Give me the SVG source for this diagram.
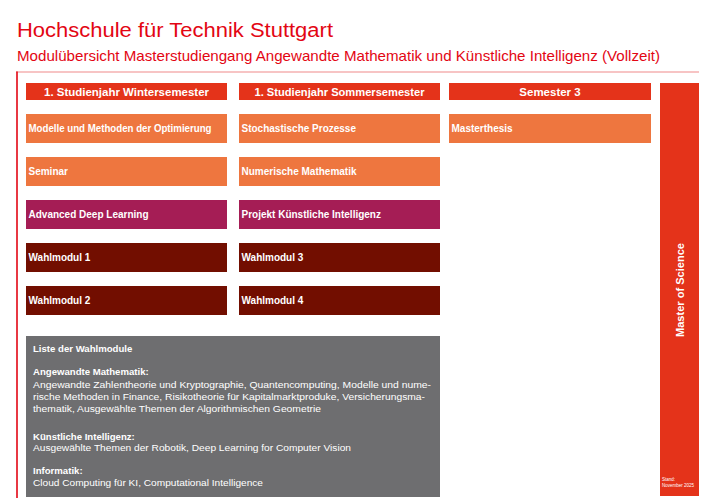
<svg xmlns="http://www.w3.org/2000/svg" width="709" height="502" viewBox="0 0 709 502">
<style>
text{font-family:"Liberation Sans",Arial,sans-serif}
.hd{fill:#E4331A}
.or{fill:#EE763F}
.mg{fill:#A51D55}
.dr{fill:#720E00}
.gy{fill:#6E6E70}
.ht{fill:#fff;font-weight:bold;font-size:11.5px;text-anchor:middle}
.mt{fill:#fff;font-weight:bold;font-size:10px}
.gt{fill:#fff;font-size:9.6px}
.gb{fill:#fff;font-size:9.6px;font-weight:bold}
</style>
<rect width="709" height="502" fill="#fff"/>
<g id="title">
<text x="17" y="37" font-size="20" fill="#E30613" textLength="316" lengthAdjust="spacingAndGlyphs">Hochschule für Technik Stuttgart</text>
<text x="17" y="61" font-size="14.5" fill="#E30613" textLength="643" lengthAdjust="spacingAndGlyphs">Modulübersicht Masterstudiengang Angewandte Mathematik und Künstliche Intelligenz (Vollzeit)</text>
</g>
<g id="frame">
<line x1="16" y1="72" x2="699" y2="72" stroke="#F08A8A" stroke-width="1.2"/>
<line x1="17" y1="71.5" x2="17" y2="498" stroke="#E30613" stroke-width="1.6"/>
</g>
<g id="header-ws"><rect class="hd" x="26" y="83" width="201" height="17"/><text class="ht" x="126.5" y="96" textLength="165" lengthAdjust="spacingAndGlyphs">1. Studienjahr Wintersemester</text></g>
<g id="header-ss"><rect class="hd" x="239" y="83" width="201" height="17"/><text class="ht" x="339.5" y="96" textLength="170" lengthAdjust="spacingAndGlyphs">1. Studienjahr Sommersemester</text></g>
<g id="header-s3"><rect class="hd" x="449" y="83" width="202" height="17"/><text class="ht" x="550" y="96">Semester 3</text></g>
<g id="master"><rect class="hd" x="660" y="83" width="39" height="413"/><text transform="translate(684,290) rotate(-90)" fill="#fff" font-weight="bold" font-size="11.5" text-anchor="middle" textLength="94" lengthAdjust="spacingAndGlyphs">Master of Science</text>
<text x="662" y="481" fill="#fff" font-size="4.5">Stand:</text><text x="662" y="487" fill="#fff" font-size="4.5">November 2025</text></g>
<g id="m1"><rect class="or" x="26" y="114" width="201" height="29"/><text class="mt" x="28.5" y="132" textLength="183" lengthAdjust="spacingAndGlyphs">Modelle und Methoden der Optimierung</text></g>
<g id="m2"><rect class="or" x="239" y="114" width="201" height="29"/><text class="mt" x="241.5" y="132">Stochastische Prozesse</text></g>
<g id="m3"><rect class="or" x="449" y="114" width="202" height="29"/><text class="mt" x="451.5" y="132">Masterthesis</text></g>
<g id="m4"><rect class="or" x="26" y="157" width="201" height="29"/><text class="mt" x="28.5" y="175">Seminar</text></g>
<g id="m5"><rect class="or" x="239" y="157" width="201" height="29"/><text class="mt" x="241.5" y="175">Numerische Mathematik</text></g>
<g id="m6"><rect class="mg" x="26" y="200" width="201" height="29"/><text class="mt" x="28.5" y="218">Advanced Deep Learning</text></g>
<g id="m7"><rect class="mg" x="239" y="200" width="201" height="29"/><text class="mt" x="241.5" y="218">Projekt Künstliche Intelligenz</text></g>
<g id="m8"><rect class="dr" x="26" y="243" width="201" height="29"/><text class="mt" x="28.5" y="261">Wahlmodul 1</text></g>
<g id="m9"><rect class="dr" x="239" y="243" width="201" height="29"/><text class="mt" x="241.5" y="261">Wahlmodul 3</text></g>
<g id="m10"><rect class="dr" x="26" y="286" width="201" height="29"/><text class="mt" x="28.5" y="304">Wahlmodul 2</text></g>
<g id="m11"><rect class="dr" x="239" y="286" width="201" height="29"/><text class="mt" x="241.5" y="304">Wahlmodul 4</text></g>
<g id="wahl">
<rect class="gy" x="26" y="336" width="414" height="161"/>
<text class="gb" x="33" y="352">Liste der Wahlmodule</text>
<text class="gb" x="33" y="375">Angewandte Mathematik:</text>
<text class="gt" x="33" y="388" textLength="398" lengthAdjust="spacingAndGlyphs">Angewandte Zahlentheorie und Kryptographie, Quantencomputing, Modelle und nume-</text>
<text class="gt" x="33" y="400" textLength="392" lengthAdjust="spacingAndGlyphs">rische Methoden in Finance, Risikotheorie für Kapitalmarktproduke, Versicherungsma-</text>
<text class="gt" x="33" y="412" textLength="288" lengthAdjust="spacingAndGlyphs">thematik, Ausgewählte Themen der Algorithmischen Geometrie</text>
<text class="gb" x="33" y="440">Künstliche Intelligenz:</text>
<text class="gt" x="33" y="451" textLength="318" lengthAdjust="spacingAndGlyphs">Ausgewählte Themen der Robotik, Deep Learning for Computer Vision</text>
<text class="gb" x="33" y="474">Informatik:</text>
<text class="gt" x="33" y="486" textLength="230" lengthAdjust="spacingAndGlyphs">Cloud Computing für KI, Computational Intelligence</text>
</g>
</svg>
